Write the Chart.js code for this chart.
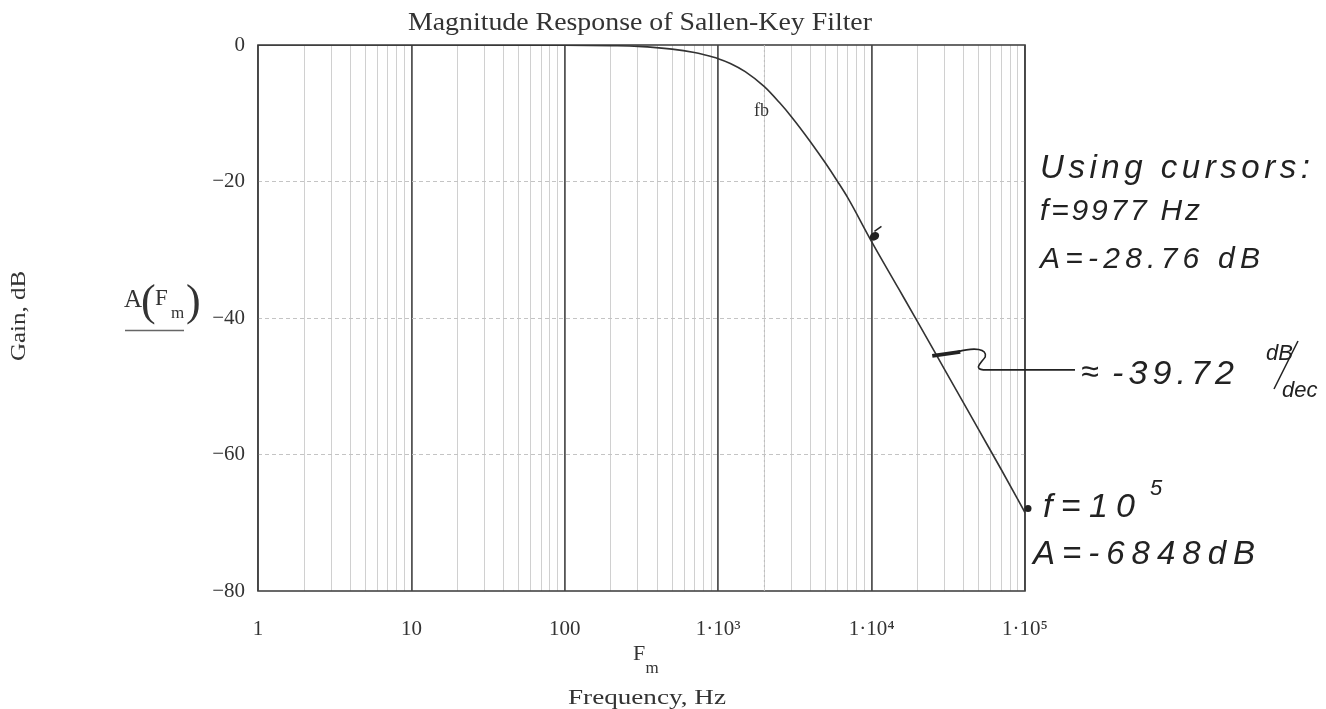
<!DOCTYPE html>
<html><head><meta charset="utf-8">
<script src="https://cdn.jsdelivr.net/npm/chart.js@4/dist/chart.umd.min.js"></script>
<style>html,body{margin:0;padding:0;background:#fff}#wrap{width:1326px;height:709px;position:relative}</style>
</head><body><div id="wrap"><canvas id="c" width="1326" height="709"></canvas></div>
<script>
// ---- data ----
const freqHz = [1, 10, 100, 200, 300, 500, 700, 800, 1000, 1200, 1500, 2000, 2500, 3000, 4000, 5000, 6000, 7000, 10000, 15000, 20000, 30000, 50000, 70000, 100000];
const gainDb = [0, 0, -0.02, -0.1, -0.2, -0.6, -1.1, -1.4, -2.0, -2.7, -3.9, -6.1, -8.4, -10.5, -14.2, -17.3, -20.0, -22.4, -28.8, -35.7, -40.6, -47.6, -56.4, -62.2, -68.5];
const decades = [1, 10, 100, 1000, 10000, 100000];
const xTickLabels = ['1', '10', '100', '1·10³', '1·10⁴', '1·10⁵'];
const yTicks = [0, -20, -40, -60, -80];
const yTickLabels = ['0', '−20', '−40', '−60', '−80'];
const fbHz = [2000, 2000];
const fbDb = [0, -80];
const cursorF = [9977];
const cursorA = [-28.76];
const endF = [100000];
const endA = [-68.48];
const slopeF = [26000];
const slopeA = [-45.4];

const gridValues = [];
for (let i = 0; i < decades.length - 1; i++) for (let k = 1; k <= 9; k++) gridValues.push(decades[i] * k);
gridValues.push(decades[decades.length - 1]);

const serif = '"Liberation Serif", "DejaVu Serif", serif';
const hand = '"Liberation Sans", "DejaVu Sans", sans-serif';
const ink = '#222';

function spaced(ctx, text, x, y, width) {
  ctx.letterSpacing = '0px';
  const w = ctx.measureText(text).width;
  const n = Math.max(1, text.length - 1);
  ctx.letterSpacing = ((width - w) / n) + 'px';
  ctx.fillText(text, x, y);
  ctx.letterSpacing = '0px';
}
function fit(ctx, text, x, y, width, align) {
  const w = ctx.measureText(text).width;
  ctx.save();
  ctx.translate(x, y);
  ctx.scale(width / w, 1);
  ctx.textAlign = align;
  ctx.fillText(text, 0, 0);
  ctx.restore();
}

const decor = {
  id: 'decor',
  beforeDatasetsDraw(chart) {
    const {ctx, chartArea: a} = chart;
    ctx.save();
    ctx.strokeStyle = '#444';
    ctx.lineWidth = 1.6;
    ctx.strokeRect(a.left, a.top, a.right - a.left, a.bottom - a.top);
    ctx.restore();
  },
  afterDraw(chart) {
    const {ctx, chartArea: a, scales} = chart;
    const xs = scales.x, ys = scales.y;
    ctx.save();
    ctx.fillStyle = '#333';
    ctx.textBaseline = 'alphabetic';
    ctx.font = '26px ' + serif;
    fit(ctx, 'Magnitude Response of Sallen-Key Filter', 640, 30, 464, 'center');
    // x axis titles
    ctx.textAlign = 'center';
    ctx.font = '22px ' + serif;
    ctx.fillText('F', 639, 660);
    ctx.font = '17px ' + serif;
    ctx.fillText('m', 652, 673);
    ctx.font = '21px ' + serif;
    fit(ctx, 'Frequency, Hz', 647, 704, 158, 'center');
    // y axis titles
    ctx.save();
    ctx.translate(25, 316);
    ctx.rotate(-Math.PI / 2);
    ctx.font = '21px ' + serif;
    fit(ctx, 'Gain, dB', 0, 0, 90, 'center');
    ctx.restore();
    ctx.textAlign = 'left';
    ctx.font = '25px ' + serif;
    ctx.fillText('A', 124, 307);
    ctx.font = '23px ' + serif;
    ctx.fillText('F', 155, 305);
    ctx.font = '17px ' + serif;
    ctx.fillText('m', 171, 318);
    ctx.font = '44px ' + serif;
    ctx.fillText('(', 141, 315);
    ctx.fillText(')', 186, 315);
    ctx.strokeStyle = '#666';
    ctx.lineWidth = 1.3;
    ctx.beginPath(); ctx.moveTo(125, 330.5); ctx.lineTo(184, 330.5); ctx.stroke();
    // fb label
    ctx.textAlign = 'center';
    ctx.font = '18px ' + serif;
    ctx.fillText('fb', xs.getPixelForValue(fbHz[0]) - 3, 116);

    // hand annotations
    ctx.fillStyle = ink;
    ctx.strokeStyle = ink;
    ctx.textAlign = 'left';
    ctx.font = 'italic 33px ' + hand;
    spaced(ctx, 'Using cursors:', 1040, 178, 270);
    ctx.font = 'italic 30px ' + hand;
    spaced(ctx, 'f=9977 Hz', 1040, 220, 160);
    spaced(ctx, 'A=-28.76 dB', 1040, 268, 220);
    // cursor blob at 1e4
    const px = xs.getPixelForValue(cursorF[0]), py = ys.getPixelForValue(cursorA[0]);
    ctx.beginPath(); ctx.ellipse(px + 3, py - 5, 5, 4, -0.6, 0, Math.PI * 2); ctx.fill();
    ctx.lineWidth = 1.5;
    ctx.beginPath(); ctx.moveTo(px + 3, py - 10); ctx.lineTo(px + 10, py - 15); ctx.stroke();
    // slope arrow
    const sx = xs.getPixelForValue(slopeF[0]), sy = ys.getPixelForValue(slopeA[0]);
    ctx.lineWidth = 4;
    ctx.beginPath(); ctx.moveTo(sx - 3, sy + 1); ctx.lineTo(sx + 25, sy - 3); ctx.stroke();
    ctx.lineWidth = 1.6;
    ctx.beginPath();
    ctx.moveTo(sx + 22, sy - 3);
    ctx.bezierCurveTo(sx + 40, sy - 8, sx + 52, sy - 6, sx + 50, sy + 2);
    ctx.bezierCurveTo(sx + 46, sy + 8, sx + 38, sy + 14, sx + 48, sy + 15);
    ctx.lineTo(1075, sy + 15);
    ctx.stroke();
    ctx.font = 'italic 32px ' + hand;
    ctx.fillText('≈', 1081, 382);
    ctx.font = 'italic 34px ' + hand;
    spaced(ctx, '-39.72', 1112, 384, 122);
    ctx.font = 'italic 22px ' + hand;
    ctx.fillText('dB', 1266, 360);
    ctx.fillText('dec', 1282, 397);
    ctx.lineWidth = 1.6;
    ctx.beginPath(); ctx.moveTo(1298, 341); ctx.lineTo(1274, 389); ctx.stroke();
    // end point
    const ex = xs.getPixelForValue(endF[0]), ey = ys.getPixelForValue(endA[0]);
    ctx.beginPath(); ctx.arc(ex + 3, ey - 4, 3.5, 0, Math.PI * 2); ctx.fill();
    ctx.font = 'italic 34px ' + hand;
    spaced(ctx, 'f=10', 1043, 517, 92);
    ctx.font = 'italic 22px ' + hand;
    ctx.fillText('5', 1150, 495);
    ctx.font = 'italic 33px ' + hand;
    spaced(ctx, 'A=-6848dB', 1033, 564, 222);
    ctx.restore();
  }
};

new Chart(document.getElementById('c'), {
  type: 'line',
  data: {
    datasets: [
      {
        data: freqHz.map((f, i) => ({x: f, y: gainDb[i]})),
        borderColor: '#333', borderWidth: 1.6, pointRadius: 0,
        cubicInterpolationMode: 'monotone', fill: false
      },
      {
        data: fbHz.map((f, i) => ({x: f, y: fbDb[i]})),
        borderColor: '#bbb', borderWidth: 1, borderDash: [2, 3], pointRadius: 0, fill: false
      }
    ]
  },
  options: {
    responsive: false,
    animation: false,
    devicePixelRatio: 1,
    layout: {padding: {top: 45, right: 301, left: 0, bottom: 0}},
    plugins: {legend: {display: false}, tooltip: {enabled: false}, title: {display: false}},
    scales: {
      x: {
        type: 'logarithmic', min: 1, max: 100000,
        afterFit(s) { s.height = 118; },
        afterBuildTicks(s) { s.ticks = gridValues.map(v => ({value: v})); },
        border: {display: false},
        grid: {
          drawTicks: false,
          color: c => decades.includes(c.tick && c.tick.value) ? '#555' : '#d0d0d0',
          lineWidth: c => decades.includes(c.tick && c.tick.value) ? 1.8 : 1
        },
        ticks: {
          autoSkip: false, maxRotation: 0, padding: 26,
          color: '#333', font: {family: serif, size: 21},
          callback: v => { const i = decades.indexOf(v); return i >= 0 ? xTickLabels[i] : ''; }
        }
      },
      y: {
        min: -80, max: 0,
        afterFit(s) { s.width = 258; },
        afterBuildTicks(s) { s.ticks = yTicks.map(v => ({value: v})); },
        border: {display: false, dash: [4, 3]},
        grid: {
          drawTicks: false,
          color: c => (c.tick && (c.tick.value === 0 || c.tick.value === -80)) ? 'rgba(0,0,0,0)' : '#c4c4c4',
          lineWidth: 1
        },
        ticks: {
          padding: 13, color: '#333', font: {family: serif, size: 21},
          callback: v => yTickLabels[yTicks.indexOf(v)]
        }
      }
    }
  },
  plugins: [decor]
});
</script>
</body></html>
